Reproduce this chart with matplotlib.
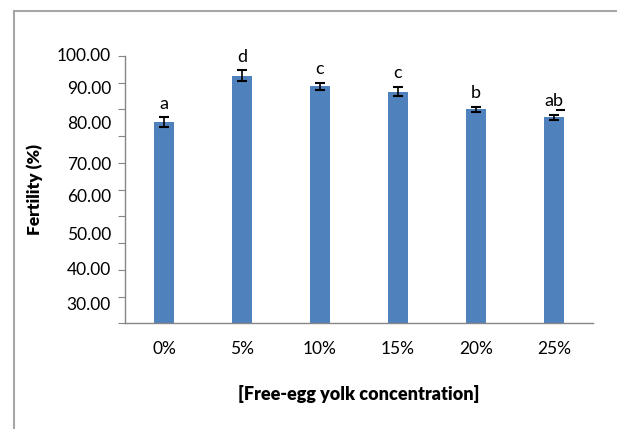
import matplotlib.pyplot as plt
from matplotlib.lines import Line2D

## fertility of semen vs. free egg-yolk concentration in the extender
conc = ['0%', '5%', '10%', '15%', '20%', '25%']
fertility = [75.2, 92.6, 88.6, 86.7, 80.0, 77.0]
sem = [1.9, 2.1, 1.4, 1.8, 1.0, 1.0]
letters = ['a', 'd', 'c', 'c', 'b', 'ab']

## y labels as they sit beside the axis (label text, height in axis units)
ylab_text = ['100.00', '90.00', '80.00', '70.00', '60.00', '50.00', '40.00', '30.00']
ylab_pos = [100.0, 87.5, 74.4, 59.2, 47.4, 33.0, 19.9, 6.8]

plt.rcParams['font.family'] = ['Lato', 'DejaVu Sans']

fig = plt.figure(figsize=(6.17, 4.29), dpi=100)
ax = fig.add_axes([0.2026, 0.2464, 0.7585, 0.6231])

x = range(len(conc))
ax.bar(x, fertility, width=0.25, color='#4F81BD', zorder=2)
ax.errorbar(x, fertility, yerr=sem, fmt='none', ecolor='black',
            elinewidth=1.2, capsize=3.5, capthick=1.5, zorder=3)

for i, (v, e, s) in enumerate(zip(fertility, sem, letters)):
    ax.annotate(s, (i, v + e), xytext=(0, 6), textcoords='offset points',
                ha='center', va='baseline', fontsize=13)
# underline under the "b" of the last group
ax.hlines(79.8, 5.02, 5.14, color='black', lw=1.5, zorder=3)

ax.set_xlim(-0.5, 5.5)
ax.set_ylim(0, 100)
ax.set_xticks(list(x))
ax.set_xticklabels(conc, fontsize=12.5)
ax.tick_params(axis='x', length=0, pad=13)
ax.set_yticks(range(0, 101, 10))
ax.set_yticklabels([])
ax.tick_params(axis='y', direction='out', length=5, color='#868686')
for lab, pos in zip(ylab_text, ylab_pos):
    ax.text(-0.68, pos, lab, ha='right', va='center', fontsize=12.5)

for side in ['top', 'right']:
    ax.spines[side].set_visible(False)
for side in ['left', 'bottom']:
    ax.spines[side].set_color('#868686')
    ax.spines[side].set_linewidth(1)

ax.set_ylabel('Fertility (%)', fontsize=12.5, fontweight='heavy', labelpad=0)
ax.yaxis.set_label_coords(-0.175, 0.5)
ax.set_xlabel('[Free-egg yolk concentration]', fontsize=13, fontweight='heavy')
ax.xaxis.set_label_coords(0.5, -0.23)

# chart frame (only the top and left edges show)
fig.add_artist(Line2D([0.0227, 0.0227], [0.0, 0.975], color='#a6a6a6', lw=1.5))
fig.add_artist(Line2D([0.0227, 1.0], [0.975, 0.975], color='#a6a6a6', lw=1.5))

fig.savefig('out.png', dpi=100)
